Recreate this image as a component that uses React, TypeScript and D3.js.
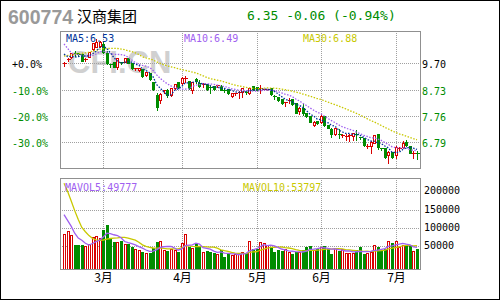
import React from "react";
import * as d3 from "d3";

const stockCode = "600774";
const stockName = "汉商集团";
const quoteText = "6.35 -0.06 (-0.94%)";
const maLabels = ["MA5:6.53", "MA10:6.49", "MA30:6.88"];
const volLabels = ["MAVOL5:49777", "MAVOL10:53797"];

const opens = [9.70,9.84,9.92,10.08,10.06,10.04,9.85,9.94,10.21,10.31,10.35,10.41,10.09,9.66,9.73,9.58,9.74,9.76,9.88,9.70,9.50,9.46,9.48,9.27,9.33,9.02,8.53,8.35,8.68,8.72,8.53,8.78,9.00,8.96,9.14,9.06,8.72,9.12,8.99,8.93,8.92,8.82,8.86,8.88,8.88,8.72,8.74,8.50,8.59,8.61,8.65,8.66,8.59,8.86,8.84,8.77,8.74,8.74,8.78,8.48,8.45,8.40,8.24,8.34,8.37,8.22,7.95,8.06,7.88,7.76,7.43,7.58,7.52,7.76,7.43,7.27,7.08,7.11,7.05,7.02,7.05,7.02,7.11,7.00,6.96,6.65,6.65,6.78,7.08,6.59,6.59,6.32,6.44,6.32,6.55,6.60,6.81,6.65,6.38,6.38];
const highs = [9.80,9.92,10.09,10.19,10.13,10.07,9.94,10.13,10.50,10.63,10.55,10.52,10.19,9.72,9.76,9.94,9.78,9.91,9.94,9.72,9.56,9.55,9.50,9.42,9.36,9.05,8.65,8.65,8.74,8.78,8.82,8.98,9.04,9.23,9.27,9.10,9.06,9.21,9.11,9.02,8.95,8.90,8.90,8.94,8.92,8.78,8.78,8.64,8.66,8.72,8.84,8.72,8.84,8.88,8.88,8.94,8.80,8.80,8.80,8.56,8.47,8.43,8.32,8.47,8.40,8.29,8.14,8.22,7.90,7.78,7.61,7.62,7.88,7.80,7.46,7.34,7.34,7.30,7.14,7.12,7.14,7.14,7.27,7.02,6.98,6.75,6.87,7.08,7.10,6.62,6.62,6.51,6.47,6.69,6.65,6.87,6.90,6.68,6.51,6.51];
const lows = [9.60,9.80,9.88,9.97,9.97,9.77,9.80,9.92,10.19,10.29,10.30,10.09,9.67,9.55,9.55,9.48,9.66,9.74,9.70,9.48,9.46,9.43,9.20,9.25,9.08,8.70,7.98,8.22,8.59,8.45,8.50,8.74,8.80,8.94,9.02,8.74,8.62,8.96,8.81,8.84,8.70,8.59,8.70,8.84,8.70,8.66,8.56,8.45,8.55,8.41,8.45,8.56,8.57,8.70,8.70,8.62,8.70,8.72,8.54,8.37,8.32,8.20,8.13,8.22,8.15,7.86,7.83,7.79,7.72,7.52,7.39,7.46,7.49,7.40,7.30,7.00,7.06,6.93,6.98,6.87,6.84,6.87,6.87,6.90,6.66,6.57,6.38,6.75,6.53,6.49,6.22,6.04,6.20,6.23,6.51,6.57,6.65,6.38,6.20,6.16];
const closes = [9.70,9.85,10.07,10.06,10.04,9.80,9.87,10.10,10.44,10.50,10.48,10.13,9.70,9.64,9.58,9.88,9.72,9.88,9.72,9.51,9.52,9.52,9.23,9.39,9.11,8.74,8.10,8.57,8.70,8.53,8.78,8.94,8.84,9.15,9.17,8.78,9.02,9.05,8.86,8.94,8.74,8.80,8.74,8.90,8.72,8.70,8.59,8.62,8.62,8.63,8.78,8.64,8.78,8.72,8.72,8.78,8.76,8.76,8.56,8.46,8.35,8.25,8.26,8.36,8.20,7.88,8.06,7.88,7.76,7.55,7.55,7.49,7.76,7.43,7.33,7.09,7.30,7.09,7.07,7.04,7.07,7.12,7.09,6.93,6.69,6.67,6.81,7.05,6.63,6.53,6.26,6.42,6.26,6.60,6.57,6.78,6.69,6.41,6.41,6.35];
const volumes = [83600,91800,80000,53500,53500,53500,50800,55400,75400,78100,72700,94500,108000,70800,61700,61700,64500,56300,56300,49000,43500,40700,34400,31700,31700,45400,61700,64500,40700,37100,43500,40700,34400,59000,82700,48000,45400,57300,47300,34400,37100,34400,31700,29000,40700,21700,29000,26200,29000,29000,34400,30800,64500,43500,43500,61700,59000,52600,49000,34400,39900,37100,41700,34400,29000,34400,34400,39900,47200,50800,39900,41700,49000,50800,41700,29000,45400,37100,43500,30800,30800,30800,39900,47200,29000,30800,34400,53500,49000,39900,41700,64500,59800,64500,49000,52600,52600,50800,36300,43500];
// trading days before the visible window (needed by the moving averages)
const priorCloses = [9.30,9.35,9.28,9.40,9.45,9.38,9.33,9.42,9.50,9.47,9.44,9.52,9.48,9.56,10.0,10.3,10.6,10.9,10.5,10.8,11.4,11.74,10.6,10.2,9.96,10.3,10.05,10.2,9.95];
const priorVolumes = [308000,340000,323000,298000,268000,170000,160000,150000,120000];

const monthIdx = [11, 33, 54, 72, 93];
const monthLabels = ["3月", "4月", "5月", "6月", "7月"];
const basePrice = 9.70;
const pctSteps = [0, -10, -20, -30];
const volTicks = [50000, 100000, 150000, 200000];

const RED = "#D80000";
const GREEN = "#008C00";
const GRID = "#A0A0A0";
const FRAME = "#909090";
const MONO = "'DejaVu Sans Mono', 'Liberation Mono', monospace";

const N = closes.length;

function movingAvg(all: number[], offset: number, n: number): number[] {
  return d3.range(N).map((i) => d3.mean(all.slice(i + offset - n + 1, i + offset + 1)) as number);
}

export default function App() {
  const pL = 60, pR = 420, pT = 31, pB = 168;
  const vT = 178, vB = 269;

  const x = d3.scalePoint<number>().domain(d3.range(N)).range([64, 417]);
  const cx = (i: number) => Math.round(x(i) as number) + 0.5;
  const priceTicks = pctSteps.map((p) => +(basePrice * (1 + p / 100)).toFixed(2));
  const y = d3.scaleLinear().domain([priceTicks[3], priceTicks[0]]).range([142.3, 63.3]);
  const yv = d3.scaleLinear().domain([50000, 200000]).range([246.3, 191.4]);
  const ry = (v: number) => Math.round(y(v)) + 0.5;

  const allC = priorCloses.concat(closes);
  const off = priorCloses.length;
  const ma5 = movingAvg(allC, off, 5);
  const ma10 = movingAvg(allC, off, 10);
  const ma30 = movingAvg(allC, off, 30);
  const allV = priorVolumes.concat(volumes);
  const voff = priorVolumes.length;
  const mv5 = movingAvg(allV, voff, 5);
  const mv10 = movingAvg(allV, voff, 10);

  const line = (arr: number[], sc: (v: number) => number) =>
    d3.line<number>().x((_, i) => x(i) as number).y((d) => sc(d))(arr) || "";

  const gridX = monthIdx.map((i) => cx(i));

  return (
    <svg width={500} height={300} style={{ position: "absolute", left: 0, top: 0, background: "#fff" }}
      shapeRendering="crispEdges">
      <rect x={0.5} y={0.5} width={499} height={299} fill="#fff" stroke="#000" />
      {/* title */}
      <text x={8} y={24} fontFamily="'Liberation Sans', Arial, sans-serif" fontWeight="bold" fontSize={19.5} fill="#999">{stockCode}</text>
      <text x={77} y={21.5} fontFamily="'Noto Sans CJK SC', sans-serif" fontSize={15} fill="#000">{stockName}</text>
      <text x={247} y={20} fontFamily={MONO} fontSize={13} fill={GREEN}>{quoteText}</text>

      {/* watermark */}
      <text x={68} y={73} fontFamily="'Liberation Sans', Arial, sans-serif" fontWeight="bold" fontSize={31} fill="#D0D0D0" shapeRendering="auto">CFI.CN</text>

      {/* price grid */}
      {priceTicks.map((p, k) => (
        <line key={"hg" + k} x1={pL} x2={pR} y1={ry(p)} y2={ry(p)} stroke={GRID} strokeDasharray="1,1" />
      ))}
      {gridX.map((gx, k) => (
        <g key={"vg" + k}>
          <line x1={gx} x2={gx} y1={pT} y2={pB} stroke={GRID} strokeDasharray="1,1" />
          <line x1={gx} x2={gx} y1={vT} y2={vB} stroke={GRID} strokeDasharray="1,1" />
        </g>
      ))}
      {volTicks.map((v, k) => (
        <line key={"vh" + k} x1={pL} x2={pR} y1={Math.round(yv(v)) + 0.5} y2={Math.round(yv(v)) + 0.5} stroke={GRID} strokeDasharray="1,1" />
      ))}

      {/* candles */}
      {closes.map((c, i) => {
        const o = opens[i];
        const up = c >= o;
        const col = up ? RED : GREEN;
        const X = cx(i);
        const yTop = ry(Math.max(o, c));
        const yBot = ry(Math.min(o, c));
        const h = yBot - yTop;
        return (
          <g key={"c" + i}>
            <line x1={X} x2={X} y1={ry(highs[i])} y2={ry(lows[i]) + 0.5} stroke={col} />
            {h < 2 ? (
              <line x1={X - 1.5} x2={X + 2.5} y1={yTop} y2={yTop} stroke={col} />
            ) : up ? (
              <rect x={X - 1} y={yTop} width={2} height={h} fill="#fff" stroke={col} />
            ) : (
              <rect x={X - 1.5} y={yTop - 0.5} width={3} height={h + 1} fill={col} />
            )}
          </g>
        );
      })}

      {/* MA lines */}
      <path d={line(ma30, y)} fill="none" stroke="#C8C800" strokeWidth={1.3} strokeDasharray="1.5,1.5" shapeRendering="auto" />
      <path d={line(ma10, y)} fill="none" stroke="#A060F0" strokeWidth={1.3} strokeDasharray="1.5,1.5" shapeRendering="auto" />
      <path d={line(ma5, y)} fill="none" stroke="#003399" strokeWidth={1.3} strokeDasharray="1.5,1.5" shapeRendering="auto" />

      {/* legends */}
      <text x={66} y={41.5} fontFamily={MONO} fontSize={10} fill="#003399">{maLabels[0]}</text>
      <text x={184} y={41.5} fontFamily={MONO} fontSize={10} fill="#A060F0">{maLabels[1]}</text>
      <text x={303} y={41.5} fontFamily={MONO} fontSize={10} fill="#C8C800">{maLabels[2]}</text>

      {/* volume bars */}
      {volumes.map((v, i) => {
        const up = closes[i] >= opens[i];
        const X = cx(i);
        const yt = Math.round(yv(v)) + 0.5;
        return up ? (
          <rect key={"v" + i} x={X - 1} y={yt} width={2} height={vB - yt} fill="#fff" stroke={RED} />
        ) : (
          <rect key={"v" + i} x={X - 1.5} y={yt - 0.5} width={3} height={vB - yt + 0.5} fill={GREEN} />
        );
      })}
      <path d={line(mv10, yv)} fill="none" stroke="#C8C800" strokeWidth={1.3} shapeRendering="auto" />
      <path d={line(mv5, yv)} fill="none" stroke="#A060F0" strokeWidth={1.3} shapeRendering="auto" />
      <text x={65} y={191} fontFamily={MONO} fontSize={10} fill="#A060F0">{volLabels[0]}</text>
      <text x={243} y={191} fontFamily={MONO} fontSize={10} fill="#C8C800">{volLabels[1]}</text>

      {/* frames */}
      <rect x={pL + 0.5} y={pT + 0.5} width={pR - pL} height={pB - pT} fill="none" stroke={FRAME} />
      <rect x={pL + 0.5} y={vT + 0.5} width={pR - pL} height={vB - vT} fill="none" stroke={FRAME} />

      {/* axes labels */}
      {pctSteps.map((p, k) => (
        <text key={"pl" + k} x={12} y={ry(priceTicks[k]) + 4} fontFamily={MONO} fontSize={10} fill={p === 0 ? "#000" : GREEN}>
          {(p === 0 ? "+" : "") + p.toFixed(1) + "%"}
        </text>
      ))}
      {priceTicks.map((p, k) => (
        <text key={"pr" + k} x={422} y={ry(p) + 4} fontFamily={MONO} fontSize={10} fill={k === 0 ? "#000" : GREEN}>
          {p.toFixed(2)}
        </text>
      ))}
      {volTicks.map((v, k) => (
        <text key={"vr" + k} x={424} y={Math.round(yv(v)) + 3} fontFamily={MONO} fontSize={10} fill="#000">{v}</text>
      ))}
      {monthIdx.map((mi, k) => (
        <text key={"m" + k} x={cx(mi)} y={282} textAnchor="middle" fontFamily="'Noto Sans CJK SC', sans-serif" fontSize={12} fill="#000">{monthLabels[k]}</text>
      ))}
    </svg>
  );
}
